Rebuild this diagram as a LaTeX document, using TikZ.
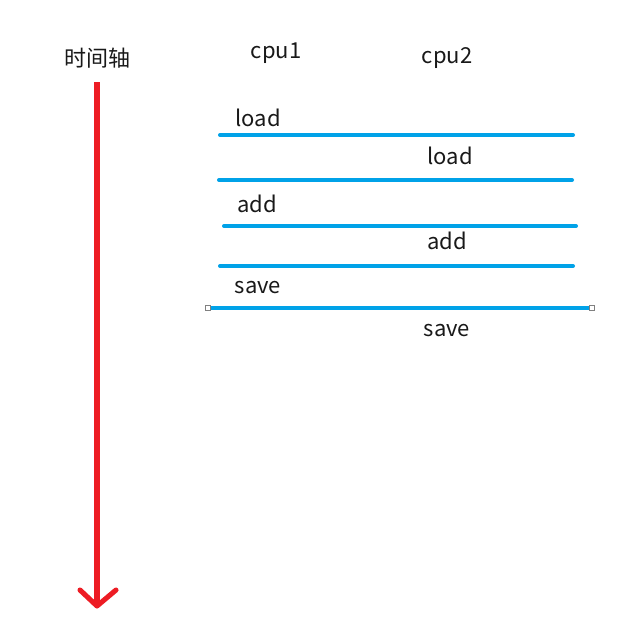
\documentclass[tikz,border=0pt]{standalone}
\usepackage{fontspec}
\setmainfont{Noto Sans CJK SC}
\definecolor{lineblue}{HTML}{00A2E8}
\definecolor{axisred}{HTML}{ED1C24}
\begin{document}
\begin{tikzpicture}[x=0.75pt,y=-0.75pt,
  lbl/.style={font=\fontsize{16.5pt}{18pt}\selectfont, text=black!90, inner sep=0pt, anchor=center},
  bar/.style={draw=lineblue, line width=3pt, line cap=round},
  handle/.style={draw=gray, fill=white, line width=0.6pt, minimum size=4pt, inner sep=0pt}]
\useasboundingbox (0,0) rectangle (642,628);
\fill[white] (0,0) rectangle (642,628);
% time axis
\node[lbl] (title) at (97,58) {时间轴};
\coordinate (atop) at (97,82);
\coordinate (abot) at (97,606);
\coordinate (hl) at (80,590);
\coordinate (hr) at (116,590);
\draw[axisred, line width=3.8pt] (atop) -- (abot);
\draw[axisred, line width=3.8pt, line cap=round, line join=round] (hl) -- (abot) -- (hr);
% headers
\node[lbl] (cpu1) at (276,53) {cpu1};
\node[lbl] (cpu2) at (447,58) {cpu2};
% bars
\coordinate (b1l) at (220,135); \coordinate (b1r) at (573,135);
\coordinate (b2l) at (219,180); \coordinate (b2r) at (572,180);
\coordinate (b3l) at (224,226); \coordinate (b3r) at (576,226);
\coordinate (b4l) at (220,266); \coordinate (b4r) at (573,266);
\draw[bar] (b1l) -- (b1r);
\draw[bar] (b2l) -- (b2r);
\draw[bar] (b3l) -- (b3r);
\draw[bar] (b4l) -- (b4r);
\node[handle] (h1) at (208,308) {};
\node[handle] (h2) at (592,308) {};
\draw[draw=lineblue, line width=3pt] (h1.east) -- (h2.west);
% labels
\node[lbl] (l1) at (258,118) {load};
\node[lbl] (l2) at (450,156) {load};
\node[lbl] (a1) at (257,204) {add};
\node[lbl] (a2) at (447,241) {add};
\node[lbl] (s1) at (258,288) {save};
\node[lbl] (s2) at (447,331) {save};
\end{tikzpicture}
\end{document}
